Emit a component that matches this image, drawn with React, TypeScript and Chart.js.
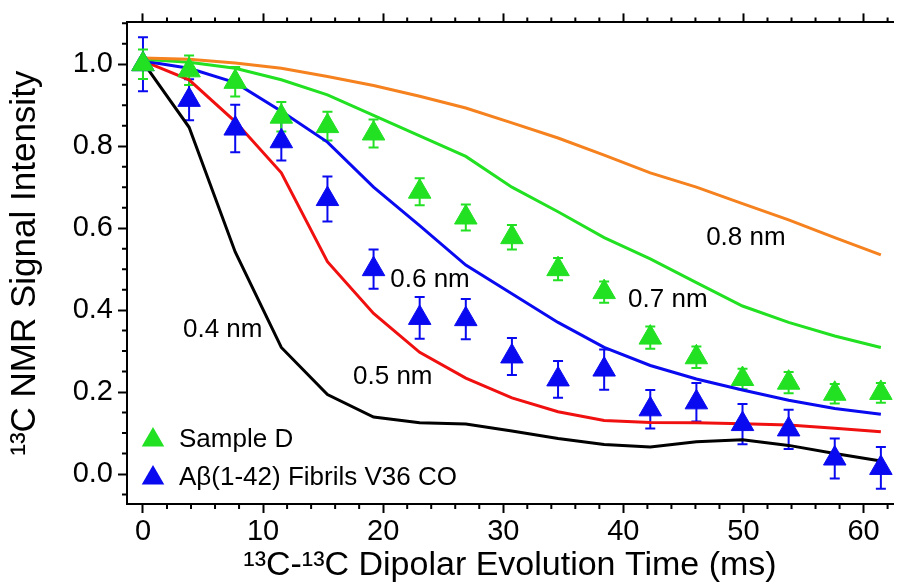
import React, { useEffect, useRef } from 'react';
import { Chart, registerables } from 'chart.js';

Chart.register(...registerables);

// ---- data ----
const times = [0, 3.84, 7.68, 11.52, 15.36, 19.2, 23.04, 26.88, 30.72, 34.56, 38.4, 42.24, 46.08, 49.92, 53.76, 57.6, 61.44];

const sampleD = [1.0, 0.985, 0.957, 0.872, 0.849, 0.831, 0.689, 0.626, 0.578, 0.5, 0.444, 0.333, 0.285, 0.232, 0.223, 0.196, 0.198];
const sampleDErr = [0.036, 0.036, 0.036, 0.036, 0.035, 0.034, 0.033, 0.032, 0.03, 0.027, 0.026, 0.027, 0.026, 0.025, 0.026, 0.024, 0.024];

const fibrils = [1.0, 0.913, 0.843, 0.812, 0.671, 0.5, 0.381, 0.378, 0.287, 0.231, 0.255, 0.158, 0.175, 0.122, 0.109, 0.038, 0.015];
const fibrilsErr = [0.066, 0.05, 0.058, 0.047, 0.055, 0.048, 0.051, 0.049, 0.045, 0.045, 0.049, 0.047, 0.047, 0.049, 0.048, 0.049, 0.051];

const sim04 = [1.005, 0.846, 0.542, 0.309, 0.194, 0.139, 0.125, 0.122, 0.105, 0.087, 0.072, 0.066, 0.079, 0.084, 0.07, 0.05, 0.032];
const sim05 = [1.008, 0.962, 0.86, 0.735, 0.518, 0.392, 0.297, 0.234, 0.186, 0.152, 0.131, 0.126, 0.125, 0.123, 0.12, 0.112, 0.103];
const sim06 = [1.008, 0.99, 0.955, 0.885, 0.81, 0.7, 0.606, 0.51, 0.44, 0.37, 0.309, 0.265, 0.232, 0.205, 0.18, 0.16, 0.146];
const sim07 = [1.012, 1.005, 0.99, 0.962, 0.925, 0.875, 0.825, 0.775, 0.7, 0.64, 0.577, 0.525, 0.467, 0.41, 0.37, 0.337, 0.309];
const sim08 = [1.015, 1.012, 1.003, 0.99, 0.97, 0.948, 0.922, 0.893, 0.857, 0.82, 0.778, 0.735, 0.7, 0.66, 0.62, 0.577, 0.535];

const curveLabels = ['0.4 nm', '0.5 nm', '0.6 nm', '0.7 nm', '0.8 nm'];
const curveLabelX = [6.64, 20.8, 23.9, 43.7, 50.2];
const curveLabelY = [0.352, 0.238, 0.474, 0.425, 0.576];

const xTicks = [0, 10, 20, 30, 40, 50, 60];
const yTicks = [0, 0.2, 0.4, 0.6, 0.8, 1.0];
const X_MIN = -1.33;
const X_MAX = 62.45;
const Y_MIN = -0.073;
const Y_MAX = 1.102;

const seriesNames = ['Sample D', 'A\u03b2(1-42) Fibrils V36 CO'];

// ---- styles ----
const FONT = "'Liberation Sans', Arial, Helvetica, sans-serif";
const GREEN = '#22E022';
const BLUE = '#0A0AF0';
const RED = '#F01010';
const ORANGE = '#F5821F';
const BLACK = '#000000';

const toXY = (ys: number[]) => times.map((t, i) => ({ x: t, y: ys[i] }));

export default function App() {
  const ref = useRef<HTMLCanvasElement | null>(null);

  useEffect(() => {
    document.body.style.margin = '0';
    const canvas = ref.current;
    if (!canvas) return;

    const errorBars = {
      id: 'errorBars',
      beforeDatasetsDraw(chart: any) {
        const { ctx, scales } = chart;
        const xs = scales.x;
        const ys = scales.y;
        const sets = [
          { v: fibrils, e: fibrilsErr, c: BLUE },
          { v: sampleD, e: sampleDErr, c: GREEN },
        ];
        ctx.save();
        ctx.lineWidth = 2;
        for (const s of sets) {
          ctx.strokeStyle = s.c;
          times.forEach((t, i) => {
            const px = xs.getPixelForValue(t);
            const top = ys.getPixelForValue(s.v[i] + s.e[i]);
            const bot = ys.getPixelForValue(s.v[i] - s.e[i]);
            ctx.beginPath();
            ctx.moveTo(px, top);
            ctx.lineTo(px, bot);
            ctx.moveTo(px - 5, top);
            ctx.lineTo(px + 5, top);
            ctx.moveTo(px - 5, bot);
            ctx.lineTo(px + 5, bot);
            ctx.stroke();
          });
        }
        ctx.restore();
      },
    };

    const decorations = {
      id: 'decorations',
      afterDraw(chart: any) {
        const { ctx, chartArea, scales } = chart;
        const xs = scales.x;
        const ys = scales.y;
        ctx.save();
        // minor ticks
        ctx.strokeStyle = BLACK;
        ctx.lineWidth = 2;
        ctx.beginPath();
        for (let k = 0; k <= 31; k++) {
          const v = k * 2;
          if (v % 10 === 0) continue;
          const px = xs.getPixelForValue(v);
          ctx.moveTo(px, chartArea.bottom);
          ctx.lineTo(px, chartArea.bottom + 5);
          ctx.moveTo(px, chartArea.top);
          ctx.lineTo(px, chartArea.top - 5);
        }
        for (let k = -1; k <= 22; k++) {
          if (k % 4 === 0) continue;
          const py = ys.getPixelForValue(k * 0.05);
          if (py < chartArea.top - 0.5 || py > chartArea.bottom + 0.5) continue;
          ctx.moveTo(chartArea.left, py);
          ctx.lineTo(chartArea.left - 5, py);
        }
        ctx.stroke();

        // curve labels
        ctx.fillStyle = BLACK;
        ctx.font = `26px ${FONT}`;
        ctx.textAlign = 'center';
        ctx.textBaseline = 'middle';
        curveLabels.forEach((lab, i) => {
          ctx.fillText(lab, xs.getPixelForValue(curveLabelX[i]), ys.getPixelForValue(curveLabelY[i]));
        });

        // legend
        const colors = [GREEN, BLUE];
        ctx.textAlign = 'left';
        ctx.font = `26px ${FONT}`;
        seriesNames.forEach((name, i) => {
          const cx = chartArea.left + 26;
          const cy = chartArea.bottom - 64 + i * 38;
          const r = 13;
          ctx.fillStyle = colors[i];
          ctx.beginPath();
          ctx.moveTo(cx, cy - r);
          ctx.lineTo(cx + r * 0.866, cy + r * 0.5);
          ctx.lineTo(cx - r * 0.866, cy + r * 0.5);
          ctx.closePath();
          ctx.fill();
          ctx.fillStyle = BLACK;
          ctx.fillText(name, cx + 26, cy);
        });
        ctx.restore();
      },
    };

    const lineDs = (label: string, ys: number[], color: string) => ({
      label,
      data: toXY(ys),
      showLine: true,
      borderColor: color,
      backgroundColor: color,
      borderWidth: 3,
      pointRadius: 0,
      tension: 0,
    });

    const pointDs = (label: string, ys: number[], color: string) => ({
      label,
      data: toXY(ys),
      showLine: false,
      pointStyle: 'triangle',
      pointRadius: 13,
      pointBackgroundColor: color,
      pointBorderColor: color,
      pointBorderWidth: 1,
      clip: false,
    });

    const tickFont = { family: FONT, size: 29 };
    const gridOpts = {
      drawOnChartArea: false,
      drawTicks: true,
      tickLength: 9,
      tickWidth: 2,
      tickColor: BLACK,
    };
    const borderOpts = { display: true, color: BLACK, width: 2 };

    const chart = new Chart(canvas, {
      type: 'scatter',
      data: {
        datasets: [
          pointDs(seriesNames[0], sampleD, GREEN),
          pointDs(seriesNames[1], fibrils, BLUE),
          lineDs('0.8 nm', sim08, ORANGE),
          lineDs('0.7 nm', sim07, GREEN),
          lineDs('0.6 nm', sim06, BLUE),
          lineDs('0.5 nm', sim05, RED),
          lineDs('0.4 nm', sim04, BLACK),
        ] as any,
      },
      options: {
        animation: false,
        responsive: false,
        devicePixelRatio: 1,
        layout: { padding: 0 },
        plugins: {
          legend: { display: false },
          tooltip: { enabled: false },
        },
        scales: {
          x: {
            type: 'linear',
            position: 'bottom',
            min: X_MIN,
            max: X_MAX,
            afterBuildTicks: (s: any) => {
              s.ticks = xTicks.map((v) => ({ value: v }));
            },
            afterFit: (s: any) => {
              s.height = 82;
            },
            ticks: { font: tickFont, color: BLACK, padding: 2, maxRotation: 0, autoSkip: false },
            grid: gridOpts,
            border: borderOpts,
            title: {
              display: true,
              text: '\u00b9\u00b3C-\u00b9\u00b3C Dipolar Evolution Time (ms)',
              font: { family: FONT, size: 34 },
              color: BLACK,
              padding: { top: 0, bottom: 0 },
            },
          },
          xTop: {
            type: 'linear',
            position: 'top',
            min: X_MIN,
            max: X_MAX,
            afterBuildTicks: (s: any) => {
              s.ticks = xTicks.map((v) => ({ value: v }));
            },
            afterFit: (s: any) => {
              s.height = 20;
            },
            ticks: { display: false },
            grid: gridOpts,
            border: borderOpts,
          },
          y: {
            type: 'linear',
            position: 'left',
            min: Y_MIN,
            max: Y_MAX,
            afterBuildTicks: (s: any) => {
              s.ticks = yTicks.map((v) => ({ value: v }));
            },
            afterFit: (s: any) => {
              s.width = 127;
            },
            ticks: {
              font: tickFont,
              color: BLACK,
              padding: 5,
              callback: (v: any) => Number(v).toFixed(1),
            },
            grid: gridOpts,
            border: borderOpts,
            title: {
              display: true,
              text: '\u00b9\u00b3C NMR Signal Intensity',
              font: { family: FONT, size: 35 },
              color: BLACK,
              padding: { top: 4, bottom: 0 },
            },
          },
        },
      } as any,
      plugins: [errorBars, decorations],
    });

    return () => chart.destroy();
  }, []);

  return (
    <div style={{ width: 907, height: 586, background: '#fff' }}>
      <canvas ref={ref} width={907} height={586} style={{ display: 'block' }} />
    </div>
  );
}
